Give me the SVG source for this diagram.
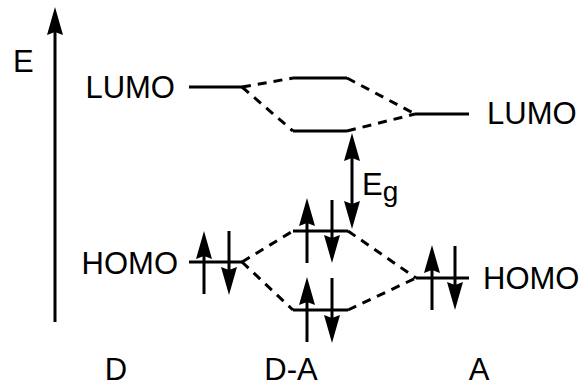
<svg xmlns="http://www.w3.org/2000/svg" width="581" height="387" viewBox="0 0 581 387">
  <style>
    text { font-family: "Liberation Sans", Arial, sans-serif; font-size: 31px; fill: #000; }
    .level { stroke: #000; stroke-width: 3; fill: none; }
    .dash { stroke: #000; stroke-width: 3; fill: none; stroke-dasharray: 9 7; }
    .spin { stroke: #000; stroke-width: 3; fill: none; }
    .head { fill: #000; stroke: none; }
  </style>
  <defs>
    <!-- filled arrowheads, tip at the origin -->
    <path id="headUp" class="head" d="M0,0 L8,28 L0,25 L-8,28 Z"/>
    <path id="headDown" class="head" d="M0,0 L8,-28 L0,-25 L-8,-28 Z"/>
  </defs>

  <!-- energy axis -->
  <g id="axis">
    <line class="spin" x1="55" y1="322" x2="55" y2="30"/>
    <use href="#headUp" x="55" y="7"/>
    <text x="13" y="72">E</text>
  </g>

  <!-- dashed correlation lines between levels -->
  <g id="connectors">
    <line class="dash" x1="242" y1="87" x2="293" y2="78"/>
    <line class="dash" x1="242" y1="87" x2="293" y2="131"/>
    <line class="dash" x1="347" y1="78" x2="415" y2="114"/>
    <line class="dash" x1="347" y1="131" x2="415" y2="114"/>
    <line class="dash" x1="242" y1="262" x2="293" y2="231"/>
    <line class="dash" x1="242" y1="262" x2="293" y2="310"/>
    <line class="dash" x1="348" y1="231" x2="416" y2="278"/>
    <line class="dash" x1="348" y1="310" x2="416" y2="278"/>
  </g>

  <!-- donor LUMO -->
  <g id="d-lumo">
    <line class="level" x1="189" y1="87" x2="242" y2="87"/>
    <text x="175" y="98" text-anchor="end">LUMO</text>
  </g>

  <!-- donor HOMO with electron pair -->
  <g id="d-homo">
    <line class="level" x1="189" y1="262" x2="242" y2="262"/>
    <line class="spin" x1="204" y1="294" x2="204" y2="252"/>
    <use href="#headUp" x="204" y="231"/>
    <line class="spin" x1="229" y1="231" x2="229" y2="274"/>
    <use href="#headDown" x="229" y="295"/>
    <text x="178" y="274" text-anchor="end">HOMO</text>
  </g>

  <!-- D-A upper LUMO -->
  <g id="da-lumo-upper">
    <line class="level" x1="293" y1="78" x2="347" y2="78"/>
  </g>

  <!-- D-A lower LUMO -->
  <g id="da-lumo-lower">
    <line class="level" x1="293" y1="131" x2="347" y2="131"/>
  </g>

  <!-- D-A upper HOMO -->
  <g id="da-homo-upper">
    <line class="level" x1="293" y1="231" x2="348" y2="231"/>
    <line class="spin" x1="307" y1="263" x2="307" y2="220"/>
    <use href="#headUp" x="307" y="198"/>
    <line class="spin" x1="332" y1="200" x2="332" y2="242"/>
    <use href="#headDown" x="332" y="263"/>
  </g>

  <!-- D-A lower HOMO -->
  <g id="da-homo-lower">
    <line class="level" x1="293" y1="310" x2="348" y2="310"/>
    <line class="spin" x1="307" y1="342" x2="307" y2="299"/>
    <use href="#headUp" x="307" y="277"/>
    <line class="spin" x1="332" y1="278" x2="332" y2="321"/>
    <use href="#headDown" x="332" y="343"/>
  </g>

  <!-- band gap -->
  <g id="gap">
    <line class="spin" x1="352" y1="155" x2="352" y2="206"/>
    <use href="#headUp" x="352" y="133"/>
    <use href="#headDown" x="352" y="229"/>
    <text x="362" y="195">E<tspan font-size="28" dy="6">g</tspan></text>
  </g>

  <!-- acceptor LUMO -->
  <g id="a-lumo">
    <line class="level" x1="415" y1="114" x2="469" y2="114"/>
    <text x="487" y="124">LUMO</text>
  </g>

  <!-- acceptor HOMO with electron pair -->
  <g id="a-homo">
    <line class="level" x1="416" y1="278" x2="469" y2="278"/>
    <line class="spin" x1="432" y1="310" x2="432" y2="267"/>
    <use href="#headUp" x="432" y="245"/>
    <line class="spin" x1="455" y1="246" x2="455" y2="289"/>
    <use href="#headDown" x="455" y="310"/>
    <text x="483" y="289">HOMO</text>
  </g>

  <!-- column labels -->
  <g id="labels">
    <text x="116" y="380" text-anchor="middle">D</text>
    <text x="291" y="380" text-anchor="middle">D-A</text>
    <text x="479" y="380" text-anchor="middle">A</text>
  </g>
</svg>
